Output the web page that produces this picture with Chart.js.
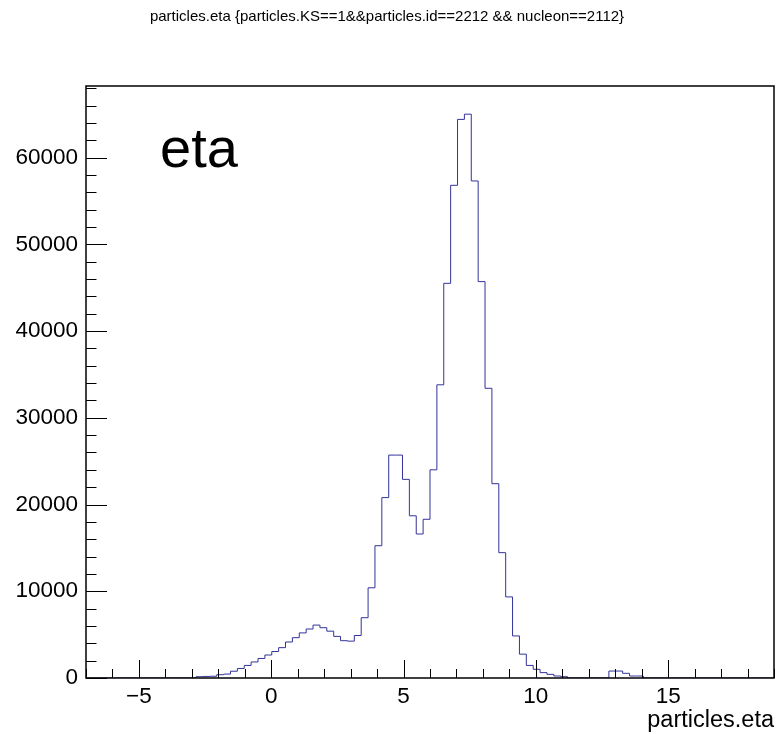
<!DOCTYPE html>
<html>
<head>
<meta charset="utf-8">
<script src="https://cdn.jsdelivr.net/npm/chart.js@4.4.0/dist/chart.umd.min.js"></script>
<style>
  body { margin: 0; background: #fff; }
  #wrap { width: 776px; height: 734px; }
</style>
</head>
<body>
<div id="wrap"><canvas id="hist" width="776" height="734"></canvas></div>
<script>
// ---------- DATA ----------
const X_MIN = -7;
const X_MAX = 19;
const N_BINS = 100;
const Y_MAX = 68250;

// entries per bin (100 bins from -7 to 19)
const counts = [
    0, 0, 0, 0, 0, 0, 0, 0, 0, 0,
    0, 0, 0, 0, 0, 0, 150, 180, 200, 380,
    450, 780, 1100, 1450, 1850, 2250, 2650, 3050, 3500, 4150,
    4650, 5200, 5650, 6100, 5800, 5400, 4800, 4300, 4250, 4900,
    6950, 10400, 15250, 20800, 25700, 25700, 22900, 18700, 16600, 18300,
    24000, 33800, 45500, 56800, 64400, 65000, 57300, 45700, 33400, 22400,
    14450, 9350, 4850, 2750, 1450, 1000, 620, 420, 230, 150,
    0, 0, 0, 0, 0, 0, 800, 800, 540, 230,
    230, 0, 0, 0, 0, 0, 0, 0, 0, 0,
    0, 0, 0, 0, 0, 0, 0, 0, 0, 0
];

const xTickValues = [-5, 0, 5, 10, 15];
const yTickValues = [0, 10000, 20000, 30000, 40000, 50000, 60000];

const titleText = "particles.eta {particles.KS==1&&particles.id==2212 && nucleon==2112}";
const xAxisTitle = "particles.eta";
const labelText = "eta";

const FONT = "'Liberation Sans', Arial, Helvetica, sans-serif";

// ---------- HISTOGRAM POINTS ----------
const binW = (X_MAX - X_MIN) / N_BINS;
const points = counts.map((c, k) => ({ x: X_MIN + k * binW, y: c }));
points.push({ x: X_MAX, y: 0 });

// ---------- ROOT STYLE FRAME ----------
const rootFrame = {
    id: "rootFrame",
    afterDatasetsDraw(chart) {
        const { ctx, chartArea: a, scales } = chart;
        const xs = scales.x, ys = scales.y;
        ctx.save();
        ctx.strokeStyle = "#000";
        ctx.lineWidth = 1;

        ctx.beginPath();
        // x ticks (inside, from bottom)
        for (let v = X_MIN; v <= X_MAX; v++) {
            const px = Math.round(xs.getPixelForValue(v)) + 0.5;
            const len = v % 5 === 0 ? 18 : 9;
            ctx.moveTo(px, a.bottom);
            ctx.lineTo(px, a.bottom - len);
        }
        // y ticks (inside, from left)
        for (let v = 0; v <= Y_MAX; v += 2000) {
            const py = Math.round(ys.getPixelForValue(v)) + 0.5;
            const len = v % 10000 === 0 ? 21 : 10.5;
            ctx.moveTo(a.left, py);
            ctx.lineTo(a.left + len, py);
        }
        ctx.stroke();

        // frame
        ctx.lineWidth = 1.5;
        ctx.strokeRect(a.left, a.top, a.right - a.left, a.bottom - a.top);

        // big label
        ctx.fillStyle = "#000";
        ctx.font = "56px " + FONT;
        ctx.textAlign = "left";
        ctx.textBaseline = "alphabetic";
        ctx.fillText(labelText, 160, 167);
        ctx.restore();
    }
};

// ---------- CHART ----------
Chart.defaults.color = "#000";
Chart.defaults.font.family = FONT;

new Chart(document.getElementById("hist"), {
    type: "line",
    data: {
        datasets: [{
            data: points,
            stepped: true,
            borderColor: "#333399",
            borderWidth: 1,
            pointRadius: 0,
            fill: false
        }]
    },
    options: {
        responsive: false,
        animation: false,
        devicePixelRatio: 1,
        layout: { padding: { left: 0, right: 2, top: 0, bottom: 0 } },
        plugins: {
            legend: { display: false },
            tooltip: { enabled: false },
            title: {
                display: true,
                text: titleText,
                color: "#000",
                font: { size: 15, weight: "normal" },
                padding: { top: 8, bottom: 60 }
            }
        },
        scales: {
            x: {
                type: "linear",
                min: X_MIN,
                max: X_MAX,
                grid: { display: false, tickLength: 0 },
                border: { display: false },
                afterBuildTicks: s => { s.ticks = xTickValues.map(v => ({ value: v })); },
                afterFit: s => { s.height = 56; },
                ticks: {
                    font: { size: 22.5 },
                    padding: 5,
                    maxRotation: 0,
                    autoSkip: false,
                    callback: v => (v < 0 ? "\u2212" + (-v) : String(v))
                },
                title: {
                    display: true,
                    text: xAxisTitle,
                    align: "end",
                    font: { size: 23.5 },
                    padding: { top: 0, bottom: -1 }
                }
            },
            y: {
                type: "linear",
                min: 0,
                max: Y_MAX,
                grid: { display: false, tickLength: 0 },
                border: { display: false },
                afterBuildTicks: s => { s.ticks = yTickValues.map(v => ({ value: v })); },
                afterFit: s => { s.width = 86; },
                ticks: {
                    font: { size: 22.5 },
                    padding: 8,
                    autoSkip: false,
                    callback: v => String(v)
                }
            }
        }
    },
    plugins: [rootFrame]
});
</script>
</body>
</html>
